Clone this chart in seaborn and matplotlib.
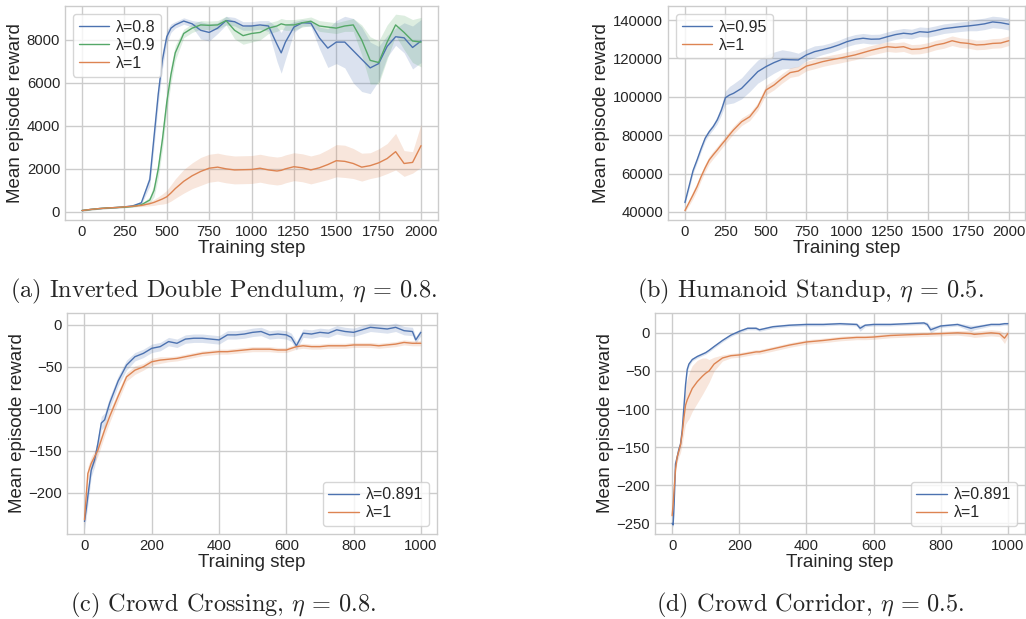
import matplotlib
matplotlib.use("Agg")
import matplotlib.pyplot as plt
import seaborn as sns

# ---- (a) Inverted Double Pendulum ----
A_STEPS = [0, 50, 100, 150, 200, 250, 300, 350, 400, 425, 450, 475, 500, 525, 550,
           600, 650, 700, 750, 800, 850, 900, 950, 1000, 1050, 1100, 1150, 1175,
           1200, 1250, 1300, 1350, 1400, 1450, 1500, 1550, 1600, 1650, 1700, 1750,
           1800, 1850, 1900, 1950, 2000]
A_L08 = [60, 110, 150, 180, 200, 230, 280, 420, 1500, 3500, 5500, 7100, 8150, 8550, 8700,
         8880, 8750, 8450, 8350, 8550, 8900, 8850, 8650, 8650, 8700, 8650, 7800, 7400,
         7900, 8600, 8800, 8780, 8100, 7620, 7900, 7900, 7500, 7100, 6700, 6900,
         7700, 8150, 8100, 7650, 7950]
A_L08_SD = [30, 30, 30, 30, 30, 30, 40, 80, 300, 450, 450, 400, 300, 200, 150,
            150, 150, 400, 400, 250, 200, 200, 200, 200, 200, 250, 800, 950,
            800, 250, 150, 150, 500, 900, 1000, 1200, 1500, 1500, 1200, 800,
            500, 400, 700, 1000, 1000]
A_L09 = [60, 110, 150, 180, 200, 220, 250, 330, 550, 1000, 2000, 3400, 5100, 6400, 7400,
         8300, 8550, 8700, 8680, 8700, 8900, 8450, 8200, 8300, 8350, 8550, 8650, 8750,
         8700, 8700, 8800, 8870, 8650, 8600, 8550, 8650, 8700, 8000, 7050, 6950,
         7900, 8700, 8350, 7950, 7900]
A_L09_SD = [30, 30, 30, 30, 30, 30, 30, 50, 150, 300, 400, 450, 450, 400, 350,
            200, 200, 200, 200, 200, 200, 400, 400, 400, 350, 250, 250, 250,
            250, 250, 200, 200, 250, 250, 250, 250, 300, 700, 1100, 1000,
            800, 500, 800, 1000, 1150]
A_L1 = [60, 110, 150, 180, 200, 230, 260, 300, 380, 440, 520, 600, 700, 880, 1080,
        1420, 1680, 1880, 2030, 2080, 2000, 1950, 1960, 1970, 2030, 1950, 1900, 1930,
        2000, 2100, 2050, 1950, 2050, 2200, 2380, 2350, 2250, 2080, 2150, 2280,
        2480, 2800, 2250, 2300, 3080]
A_L1_SD = [30, 30, 30, 30, 30, 30, 30, 60, 100, 140, 180, 240, 300, 380, 450,
           550, 600, 650, 650, 650, 650, 650, 650, 650, 650, 650, 650, 650,
           650, 650, 650, 650, 650, 700, 750, 750, 700, 650, 600, 650,
           700, 850, 600, 500, 1000]

# ---- (b) Humanoid Standup ----
B_STEPS = [0, 25, 50, 75, 100, 125, 150, 175, 200, 225, 250, 275, 300,
           350, 400, 450, 500, 550, 600, 650, 700, 750, 800, 850, 900, 950, 1000,
           1050, 1100, 1150, 1200, 1250, 1300, 1350, 1400, 1450, 1500, 1550, 1600,
           1650, 1700, 1750, 1800, 1850, 1900, 1950, 2000]
B_L095 = [44900, 53200, 61500, 67100, 73000, 78400, 81800, 84500, 88000, 93000, 99500, 100900, 101800,
          104400, 108700, 113100, 115700, 117800, 119500, 119300, 119200, 121800, 123500, 124500,
          125600, 127000, 128700, 129900, 130500, 130000, 130100, 131300, 132400, 133100, 132700,
          133900, 133600, 134500, 135500, 136000, 136500, 136900, 137400, 138000, 139000, 138600,
          137800]
B_L095_SD = [1000, 1500, 1500, 1500, 1500, 1500, 1500, 1500, 2000, 2500, 3500, 4500, 5000,
             5500, 6000, 6000, 6000, 5500, 5000, 4500, 3500, 3000, 3000, 2500, 2500, 2500,
             2500, 2500, 2500, 2500, 2500, 2500, 2500, 2500, 2500, 2500, 2500, 2500, 2500,
             2500, 2500, 2500, 3000, 3000, 3000, 3000, 3000]
B_L1 = [40700, 44800, 48900, 53200, 58400, 63000, 67100, 69800, 72300, 75000, 77500, 80200, 82700,
        87000, 89600, 94900, 103500, 106100, 109600, 112600, 113400, 116000, 117100, 118300,
        119200, 120000, 120900, 121800, 123000, 124200, 125200, 126100, 125700, 126100, 124700,
        124900, 125700, 127000, 127800, 129200, 128200, 127800, 127000, 127200, 127800, 128000,
        129200]
B_L1_SD = [800, 1500, 2000, 2000, 2000, 2000, 2000, 2000, 2000, 2000, 2000, 2000, 2000,
           2000, 2000, 2000, 2500, 2500, 2500, 2500, 2500, 2500, 2500, 2500, 2500, 2500,
           2500, 2500, 2500, 2500, 2500, 2500, 2500, 2500, 2500, 2500, 2500, 2500, 2500,
           2500, 2500, 2500, 2500, 2500, 2500, 2500, 2500]

# ---- (c) Crowd Crossing ----
C_STEPS = [0, 5, 10, 20, 30, 40, 50, 60, 75,
           100, 125, 150, 175, 200, 225, 250, 275, 300, 325, 350, 375, 400, 425, 450,
           475, 500, 525, 550, 575, 600, 615, 630,
           650, 675, 700, 725, 750, 775, 800, 825, 850, 875, 900, 925, 950, 975, 985, 1000]
C_L0891 = [-234, -220, -204, -173, -161, -141, -117, -113, -93,
           -67, -48, -38, -34, -28, -26, -20, -22, -17, -16, -16, -17, -18, -12, -12,
           -11, -9, -8, -12, -11, -12, -15, -25,
           -10, -11, -9, -10, -6, -8, -9, -6, -3, -4, -5, -3, -7, -8, -18, -9]
C_L0891_SD = [10, 10, 10, 8, 8, 8, 8, 8, 7,
              6, 6, 5, 5, 5, 5, 5, 5, 5, 5, 5, 5, 5, 5, 5,
              5, 5, 5, 5, 5, 5, 5, 5,
              5, 5, 5, 5, 5, 5, 5, 5, 5, 5, 5, 5, 5, 5, 4, 4]
C_L1 = [-232, -204, -177, -165, -157, -149, -137, -125, -109,
        -85, -62, -54, -50, -44, -42, -41, -40, -38, -36, -34, -33, -32, -32, -31,
        -30, -29, -29, -29, -30, -30, -28, -26,
        -25, -26, -26, -25, -25, -25, -24, -24, -24, -25, -24, -23, -21, -22, -22, -22]
C_L1_SD = [6, 8, 8, 8, 7, 7, 7, 7, 7,
           6, 5, 5, 4, 4, 4, 3, 3, 3, 3, 3, 3, 3, 3, 3,
           3, 3, 3, 3, 3, 3, 3, 3,
           3, 3, 3, 3, 3, 3, 3, 3, 3, 3, 3, 3, 3, 3, 3, 3]

# ---- (d) Crowd Corridor ----
D_STEPS = [0, 3, 6, 10, 15, 20, 25, 30, 35, 40, 45, 50,
           60, 75, 90, 100, 110, 125, 150, 175, 200, 225, 250, 260,
           300, 350, 400, 450, 500, 550, 560, 575, 600, 650, 700, 750,
           760, 770, 800, 850, 890, 900, 950, 975, 990, 1000]
D_L0891 = [-250, -252, -225, -172, -163, -153, -146, -128, -98, -68, -48, -41,
           -35, -31, -28, -26, -23, -18, -10, -3, 2, 6, 6, 4,
           8, 10, 11, 11, 12, 11, 6, 10, 11, 11, 12, 13,
           11, 4, 9, 11, 6, 7, 11, 11, 12, 12]
D_L0891_SD = [3, 3, 4, 4, 4, 4, 4, 4, 4, 4, 3, 3,
              2, 2, 2, 2, 2, 2, 2, 2, 2, 2, 2, 2,
              2, 2, 2, 2, 2, 2, 4, 2, 2, 2, 2, 2,
              3, 4, 2, 2, 4, 3, 2, 2, 2, 2]
D_L1 = [-240, -225, -205, -180, -163, -155, -147, -132, -112, -95, -88, -83,
        -73, -64, -57, -53, -50, -41, -33, -30, -29, -27, -25, -25,
        -21, -16, -12, -10, -7.5, -6, -6, -6, -5.5, -3.5, -2.6, -1.8,
        -1.8, -1.5, -1, 0, -1, -2, 0, -1, -7, -1]
D_L1_SD = [4, 4, 5, 5, 6, 8, 10, 14, 20, 25, 28, 30,
           30, 28, 24, 20, 15, 9, 4, 3, 3, 3, 3, 3,
           3, 3, 3, 3, 3, 3, 3, 3, 3, 3, 3, 3,
           3, 3, 3, 3, 4, 4, 4, 4, 7, 4]

BLUE, ORANGE, GREEN = sns.color_palette("deep")[:3]

sns.set_theme(style="whitegrid")
plt.rcParams['font.family'] = ['Liberation Sans', 'DejaVu Sans']
plt.rcParams['mathtext.fontset'] = 'cm'
plt.rcParams['axes.linewidth'] = 1.0


def draw_curve(ax, steps, mean, sd, color, label):
    sns.lineplot(x=steps, y=mean, ax=ax, color=color, lw=1.0, label=label)
    lo = [m - s for m, s in zip(mean, sd)]
    hi = [m + s for m, s in zip(mean, sd)]
    ax.fill_between(steps, lo, hi, color=color, alpha=0.2, lw=0)


def style_axes(ax, xticks, yticks, xlim, ylim, legend_loc):
    ax.set_xticks(xticks)
    ax.set_yticks(yticks)
    ax.set_xlim(*xlim)
    ax.set_ylim(*ylim)
    ax.tick_params(labelsize=10.7, length=0, pad=3.5)
    ax.set_xlabel("Training step", fontsize=13.5, labelpad=1)
    ax.set_ylabel("Mean episode reward", fontsize=13.5, labelpad=2)
    ax.legend(loc=legend_loc, fontsize=11.5, labelspacing=0.2, handlelength=1.9,
              handletextpad=0.45, borderpad=0.35)


fig = plt.figure(figsize=(10.26, 6.19), dpi=100)

ax_a = fig.add_axes([0.0634, 0.6446, 0.3635, 0.3457])
draw_curve(ax_a, A_STEPS, A_L08, A_L08_SD, BLUE, "λ=0.8")
draw_curve(ax_a, A_STEPS, A_L09, A_L09_SD, GREEN, "λ=0.9")
draw_curve(ax_a, A_STEPS, A_L1, A_L1_SD, ORANGE, "λ=1")
style_axes(ax_a, range(0, 2001, 250), range(0, 8001, 2000), (-100, 2100), (-380, 9580), "upper left")

ax_b = fig.add_axes([0.651, 0.6446, 0.348, 0.3457])
draw_curve(ax_b, B_STEPS, B_L095, B_L095_SD, BLUE, "λ=0.95")
draw_curve(ax_b, B_STEPS, B_L1, B_L1_SD, ORANGE, "λ=1")
style_axes(ax_b, range(0, 2001, 250), range(40000, 140001, 20000), (-105, 2100), (35800, 147300), "upper left")

ax_c = fig.add_axes([0.0653, 0.1373, 0.3606, 0.357])
draw_curve(ax_c, C_STEPS, C_L0891, C_L0891_SD, BLUE, "λ=0.891")
draw_curve(ax_c, C_STEPS, C_L1, C_L1_SD, ORANGE, "λ=1")
style_axes(ax_c, range(0, 1001, 200), range(-200, 1, 50), (-52, 1048), (-249, 14), "lower right")

ax_d = fig.add_axes([0.6384, 0.1373, 0.3606, 0.357])
draw_curve(ax_d, D_STEPS, D_L0891, D_L0891_SD, BLUE, "λ=0.891")
draw_curve(ax_d, D_STEPS, D_L1, D_L1_SD, ORANGE, "λ=1")
style_axes(ax_d, range(0, 1001, 200), range(-250, 1, 50), (-51, 1051), (-264, 26), "lower right")

captions = [
    (0.2175, 1 - 297.5 / 619, r"(a) Inverted Double Pendulum, $\eta\,=\,0.8$."),
    (0.790, 1 - 297.5 / 619, r"(b) Humanoid Standup, $\eta\,=\,0.5$."),
    (0.2175, 1 - 611.5 / 619, r"(c) Crowd Crossing, $\eta\,=\,0.8$."),
    (0.790, 1 - 611.5 / 619, r"(d) Crowd Corridor, $\eta\,=\,0.5$."),
]
for x, y, txt in captions:
    fig.text(x, y, txt, ha="center", va="baseline", fontsize=17.5, family="cmr10")

fig.savefig("out.png", dpi=100)
plt.close(fig)
